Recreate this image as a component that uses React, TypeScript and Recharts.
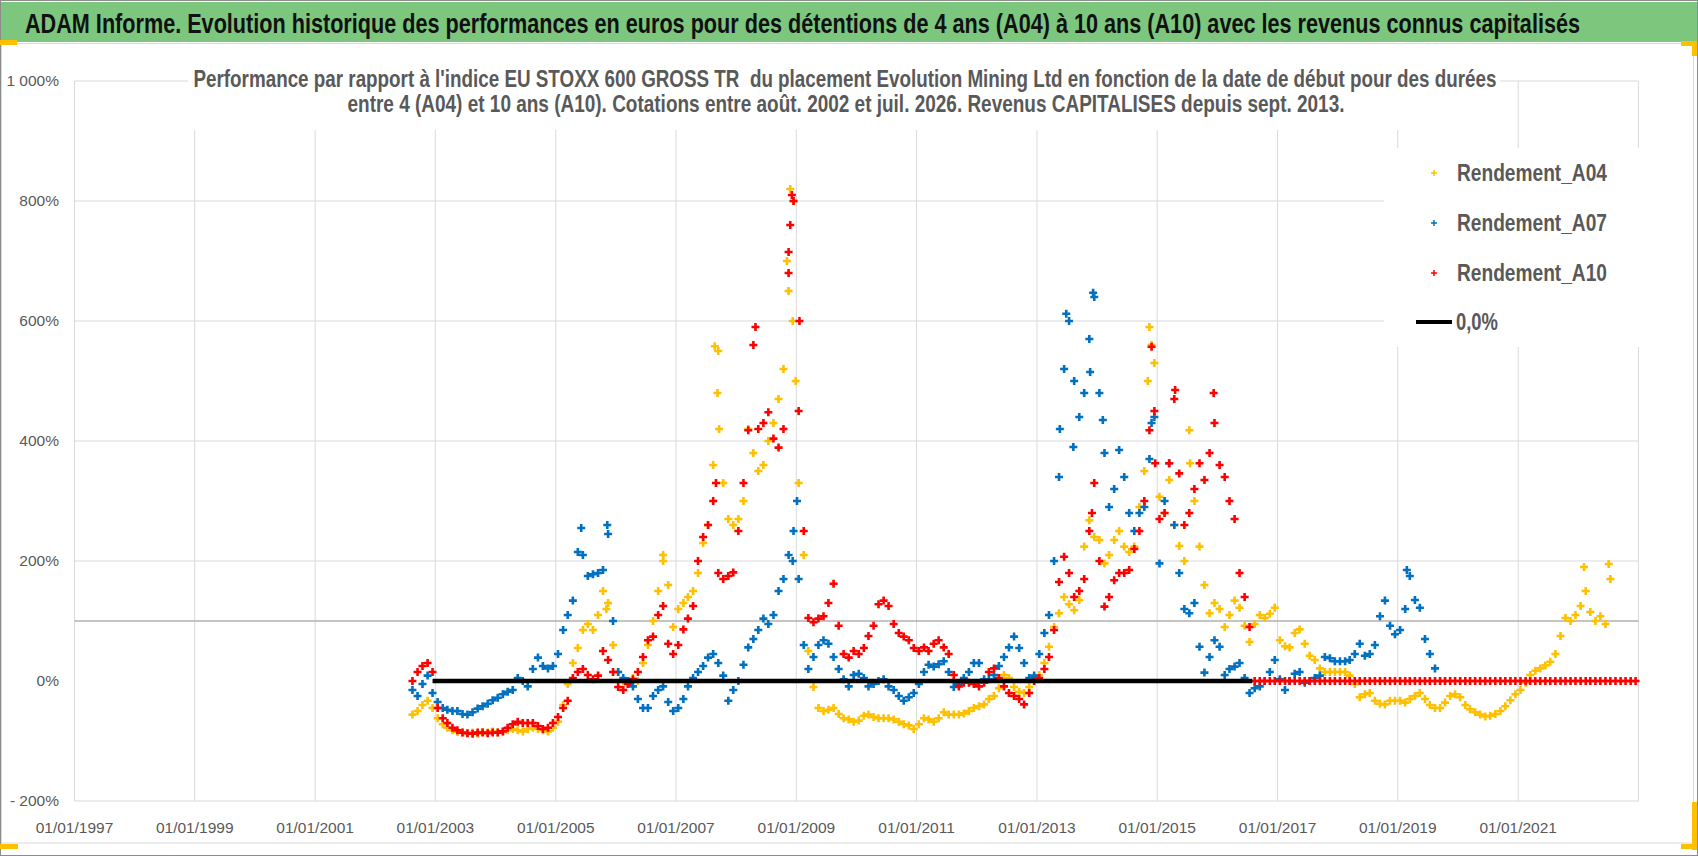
import { CartesianGrid, ReferenceLine, Scatter, ScatterChart, XAxis, YAxis } from "recharts";

// texts
const TITLE =
  "ADAM Informe. Evolution historique des performances en euros pour des détentions de 4 ans (A04) à 10 ans (A10) avec les revenus connus capitalisés";
const SUBTITLE_1 =
  "Performance par rapport à l'indice EU STOXX 600 GROSS TR  du placement Evolution Mining Ltd en fonction de la date de début pour des durées";
const SUBTITLE_2 =
  "entre 4 (A04) et 10 ans (A10). Cotations entre août. 2002 et juil. 2026. Revenus CAPITALISES depuis sept. 2013.";

// axes
const YEAR_TICKS = [1997, 1999, 2001, 2003, 2005, 2007, 2009, 2011, 2013, 2015, 2017, 2019, 2021];
const Y_TICKS = [-200, 0, 200, 400, 600, 800, 1000];
const GRID_LEVELS = [200, 400, 600, 800, 1000];
const AXIS_CROSS = 100;

// monthly values (%), first month = August 2002
const A04 = [
  -56, -50, -40, -33, -45,
  -62, -72, -78, -82, -85, -86, -87, -86, -88, -85, -86, -84,
  -86, -84, -82, -80, -82, -84, -80, -78, -80, -82, -84, -78,
  -68, -40, -5, 30, 55, 85, 95, 85, 110, 150, 130, 60,
  15, 0, -5, 5, 0, 30, 60, 100, 150, 200, 160, 90,
  120, 130, 140, 150, 180, 230, 260, 360, 550, 330, 270, 260,
  270, 300, 420, 380, 350, 360, 400, 430, 470, 520, 650, 800,
  330, 210, 50, -10, -45, -50, -48, -45, -55, -62, -64, -68,
  -66, -58, -56, -60, -62, -62, -62, -64, -68, -72, -74, -80,
  -72, -62, -64, -68, -62, -52, -56, -56, -56, -54, -50, -45,
  -42, -39, -30, -25, -12, 10, 5, -10, -18, -20, -10, 0,
  10, 30, 57, 90, 113, 140, 128, 118, 135, 224, 268, 240,
  235, 196, 210, 235, 250, 224, 215, 224, 290, 350, 590, 530,
  307, 280, 335, 260, 225, 200, 418, 300, 224, 160, 113, 130,
  120, 90, 110, 134, 122, 92, 65, 95, 110, 105, 112, 122,
  68, 58, 56, 80, 86, 62, 42, 35, 21, 15, 15, 15,
  15, 15, 9, -5, -27, -22, -20, -33, -38, -39, -33, -33,
  -33, -36, -30, -25, -20, -30, -40, -45, -45, -36, -25, -22,
  -27, -40, -47, -52, -56, -59, -58, -55, -50, -42, -32, -22,
  -15, -3, 10, 17, 21, 26, 32, 45, 75, 105, 100, 110,
  125, 150, 115, 100, 108, 95, 170,
];

const A07 = [
  -15, -25, -5, 9, -20,
  -35, -45, -48, -50, -50, -55, -56, -52, -46, -42, -38, -32,
  -28, -22, -18, -15, 5, 0, -9, 20, 39, 25, 21, 25,
  45, 85, 110, 134, 215, 210, 175, 178, 180, 185, 245, 100,
  15, 5, 0, -9, -30, -45, -45, -25, -15, -9, -35, -50,
  -45, -30, -9, 5, 15, 25, 39, 45, 30, 9, -33, -15,
  0, 27, 56, 70, 85, 104, 95, 110, 150, 170, 210, 250,
  170, 60, 20, 40, 60, 68, 62, 40, 20, 3, -9, 10,
  12, 5, -9, -5, 0, 3, -9, -15, -25, -33, -27, -20,
  -5, 15, 27, 24, 28, 33, 15, -10, -5, 5, 15, 30,
  30, 3, 3, 10, 25, 40, 56, 74, 55, 30, 5, 9,
  45, 80, 110, 200, 340, 520, 600, 500, 440, 480, 570, 640,
  480, 380, 290, 320, 385, 340, 280, 250, 280, 290, 370, 440,
  196, 300, 363, 260, 180, 120, 113, 130, 57, 14, 40, 68,
  57, 10, 20, 24, 30, 5, -20, -12, -9, 0, 15, 35,
  3, -15, 0, 12, 15, -3, 0, 5, 9, 40, 38, 33,
  33, 33, 35, 45, 62, 42, 45, 60, 108, 134, 92, 78,
  85, 120, 175, 135, 122, 70, 45, 21,
];

const A10 = [
  0, 15, 25, 30, 15,
  -45, -62, -70, -78, -82, -86, -87, -88, -86, -86, -87, -86,
  -86, -84, -78, -72, -68, -70, -70, -70, -75, -80, -78, -70,
  -60, -45, -33, 5, 15, 20, 10, 3, 9, 50, 35, 15,
  -10, -15, -5, 3, 15, 40, 68, 74, 110, 125, 62, 45,
  60, 86, 104, 125, 200, 240, 260, 300, 180, 170, 175, 181,
  250, 330, 418, 560, 420, 430, 448, 404, 389, 420, 715, 800,
  450, 250, 105, 98, 104, 108, 130, 162, 92, 45, 39, 50,
  45, 55, 75, 92, 128, 134, 125, 95, 80, 74, 68, 55,
  50, 56, 50, 62, 68, 56, 45, 10, -9, -3, -3, -5,
  -9, -3, 15, 21, 5, -9, -20, -25, -30, -39, -20, 0,
  5, 20, 40, 85, 165, 207, 180, 140, 150, 170, 250, 330,
  200, 124, 140, 168, 180, 180, 185, 220, 250, 300, 418, 450,
  270, 280, 363, 470, 346, 260, 280, 320, 363, 335, 380, 430,
  360, 340, 300, 270, 180, 140, 90,
  0, 0, 0, 0, 0,
  0, 0, 0, 0, 0, 0, 0, 0, 0, 0, 0, 0,
  0, 0, 0, 0, 0, 0, 0, 0, 0, 0, 0, 0,
  0, 0, 0, 0, 0, 0, 0, 0, 0, 0, 0, 0,
  0, 0, 0, 0, 0, 0, 0, 0, 0, 0, 0, 0,
  0, 0, 0, 0, 0, 0, 0, 0, 0, 0, 0, 0,
  0, 0, 0, 0, 0, 0, 0, 0, 0, 0, 0, 0,
];

// scattered outliers (date, %)
const A04_OUTLIERS: [string, number][] = [
  ["2005-11-05", 120], ["2006-10-15", 210], ["2007-08-25", 558], ["2007-09-10", 480],
  ["2007-09-20", 420], ["2008-11-05", 700], ["2008-11-25", 820], ["2008-12-10", 600],
  ["2008-12-28", 500], ["2014-11-05", 500], ["2014-11-28", 560], ["2015-07-20", 363],
  ["2022-02-05", 190], ["2022-07-05", 195],
];
const A07_OUTLIERS: [string, number][] = [
  ["2005-06-05", 255], ["2005-11-10", 260], ["2008-12-10", 200], ["2009-01-05", 300],
  ["2013-05-20", 420], ["2013-06-28", 612], ["2013-08-10", 390], ["2013-12-08", 647],
  ["2013-11-20", 515], ["2014-02-05", 435], ["2014-11-28", 430], ["2019-02-25", 185],
];
const A10_OUTLIERS: [string, number][] = [
  ["2007-09-01", 330], ["2008-04-28", 590], ["2008-11-15", 680], ["2008-11-25", 760],
  ["2008-12-05", 810], ["2009-01-20", 600], ["2013-12-01", 280], ["2014-11-28", 557],
  ["2014-12-20", 363], ["2015-04-20", 485], ["2015-12-10", 480],
];

// the 0,0% reference series (start / end dates)
const ZERO_LINE_DATES = ["2002-12-15", "2016-08-01"];

const SERIES = [
  { name: "Rendement_A04", color: "#FFC000", values: A04, outliers: A04_OUTLIERS },
  { name: "Rendement_A07", color: "#0070C0", values: A07, outliers: A07_OUTLIERS },
  { name: "Rendement_A10", color: "#FF0000", values: A10, outliers: A10_OUTLIERS },
];

const toPoints = (values: number[], outliers: [string, number][]) => [
  ...values.map((v, i) => ({ t: Date.UTC(2002, 7 + i, 15), v })),
  ...outliers.map(([d, v]) => ({ t: Date.parse(d), v })),
];
const zeroLine = ZERO_LINE_DATES.map((d) => ({ t: Date.parse(d), v: 0 }));

const W = 1698;
const H = 856;
const TXT = "#595959";
const GRID = "#d9d9d9";
const FONT = "'Liberation Sans', Arial, sans-serif";

const plus = (color: string, r: number, w: number) => (props: any) => {
  const { cx, cy } = props;
  if (cx == null || cy == null) return <g />;
  return <path d={`M${cx - r},${cy}H${cx + r}M${cx},${cy - r}V${cy + r}`} stroke={color} strokeWidth={w} />;
};

const yLabel = (v: number) => (v === 1000 ? "1 000%" : v < 0 ? `- ${-v}%` : `${v}%`);

const YTick = ({ y, payload }: any) => (
  <text x={59} y={y} dy="0.35em" textAnchor="end" fill={TXT} fontSize={15.5} fontFamily={FONT}>
    {yLabel(payload.value)}
  </text>
);

const XTick = ({ x, payload }: any) => (
  <text x={x} y={833} textAnchor="middle" fill={TXT} fontSize={15.5} fontFamily={FONT}>
    {`01/01/${new Date(payload.value).getUTCFullYear()}`}
  </text>
);

// bold text squeezed horizontally to the measured width (Calibri-like look)
const Squeezed = ({ x, y, width, size, sx, anchor = "start", fill, children }: any) => (
  <text
    transform={`translate(${x},${y}) scale(${sx},1)`}
    textAnchor={anchor}
    fontSize={size}
    fontWeight="bold"
    fill={fill}
    fontFamily={FONT}
    textLength={width / sx}
    lengthAdjust="spacingAndGlyphs"
    style={{ whiteSpace: "pre" }}
  >
    {children}
  </text>
);

export default function App() {
  return (
    <div style={{ position: "absolute", left: 0, top: 0, width: W, height: H, background: "#fff" }}>
      <ScatterChart width={W} height={H} margin={{ top: 81, right: 59.6, bottom: 15, left: 0 }}>
        <CartesianGrid horizontal={false} stroke={GRID} />
        <XAxis
          type="number"
          dataKey="t"
          domain={[Date.UTC(1997, 0, 1), Date.UTC(2023, 0, 1)]}
          ticks={YEAR_TICKS.map((y) => Date.UTC(y, 0, 1))}
          interval={0}
          height={40}
          axisLine={{ stroke: GRID }}
          tickLine={false}
          tick={<XTick />}
        />
        <YAxis
          type="number"
          dataKey="v"
          domain={[-200, 1000]}
          ticks={Y_TICKS}
          interval={0}
          width={74.5}
          axisLine={false}
          tickLine={false}
          tick={<YTick />}
        />
        {GRID_LEVELS.map((g) => (
          <ReferenceLine key={g} y={g} stroke={GRID} />
        ))}
        <ReferenceLine y={AXIS_CROSS} stroke="#b0b0b0" strokeWidth={1.5} />
        {SERIES.map((s) => (
          <Scatter
            key={s.name}
            name={s.name}
            data={toPoints(s.values, s.outliers)}
            fill={s.color}
            shape={plus(s.color, 4, 2.6)}
            isAnimationActive={false}
          />
        ))}
        <Scatter
          name="0,0%"
          data={zeroLine}
          line={{ stroke: "#000", strokeWidth: 4.5 }}
          shape={() => <g />}
          isAnimationActive={false}
        />
      </ScatterChart>

      <svg width={W} height={H} style={{ position: "absolute", left: 0, top: 0, pointerEvents: "none" }}>
        {/* header band */}
        <rect x={1} y={2} width={W - 2} height={40} fill="#7cc67e" />
        <Squeezed x={25} y={33} width={1555} size={27} sx={0.72} fill="#111">
          {TITLE}
        </Squeezed>
        <rect x={1.5} y={43.5} width={1692} height={799.5} fill="none" stroke={GRID} />
        <rect x={0.5} y={0.5} width={W - 1} height={H - 1} fill="none" stroke="#8c8c8c" />
        {/* selection handles */}
        <path d="M0,42.5H17 M1681,43.5H1697 M1694.5,43V56 M0,846.5H18 M1681,846.5H1697 M1694.5,802V850" stroke="#FFC000" strokeWidth={5} />

        {/* subtitle box */}
        <rect x={188} y={56} width={1312} height={74} fill="#fff" />
        <Squeezed x={845} y={87} width={1303} size={23} sx={0.74} anchor="middle" fill={TXT}>
          {SUBTITLE_1}
        </Squeezed>
        <Squeezed x={846} y={112} width={997} size={23} sx={0.72} anchor="middle" fill={TXT}>
          {SUBTITLE_2}
        </Squeezed>

        {/* legend */}
        <rect x={1384} y={148} width={256} height={199} fill="#fff" />
        {SERIES.map((s, i) => (
          <g key={s.name}>
            <path d={`M${1431},${173 + i * 50}h6M${1434},${170 + i * 50}v6`} stroke={s.color} strokeWidth={1.5} />
            <Squeezed x={1457} y={181 + i * 50} width={150} size={23} sx={0.83} fill={TXT}>
              {s.name}
            </Squeezed>
          </g>
        ))}
        <path d="M1416,322H1452" stroke="#000" strokeWidth={4} />
        <Squeezed x={1456} y={330} width={42} size={23} sx={0.83} fill={TXT}>
          0,0%
        </Squeezed>
      </svg>
    </div>
  );
}
